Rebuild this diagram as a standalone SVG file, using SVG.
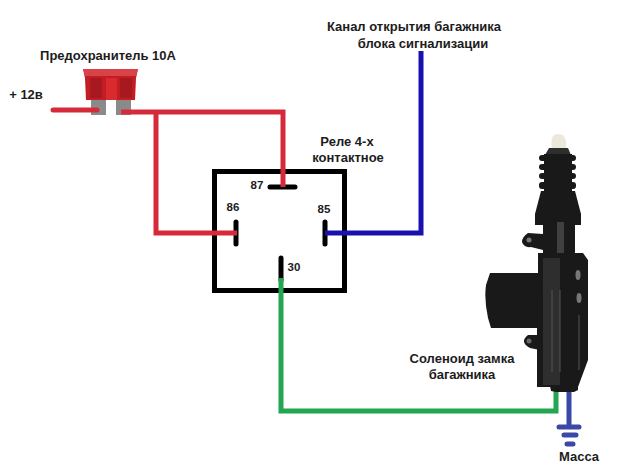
<svg xmlns="http://www.w3.org/2000/svg" width="619" height="474" viewBox="0 0 619 474">
<style>
text{font-family:"Liberation Sans",Arial,sans-serif;font-weight:bold;font-size:13px;fill:#1c1c1c;text-anchor:middle}
.n{font-size:11.500px}
.w{fill:none;stroke-width:5;stroke-linejoin:miter}
.r{stroke:#d62a3a}.b{stroke:#1a10b0}.g{stroke:#22a650}.m{stroke:#3a48a8}
.k{fill:none;stroke:#000;stroke-width:5;stroke-linecap:round}
.d{fill:#191919}.e{fill:#2e2e2e}.l{fill:none;stroke:#555;stroke-width:1}
</style>
<rect width="619" height="474" fill="#fff"/>
<g id="fuse">
<rect x="91" y="98" width="15" height="17" fill="#8a8a8a"/>
<rect x="116" y="98" width="15" height="17" fill="#8a8a8a"/>
<path d="M83 69H138L136 78L135 100H86L85 78Z" fill="#c41c24"/>
<path d="M83 69H138L136 76H85Z" fill="#d8434a"/>
<rect x="106" y="78" width="11" height="22" fill="#d92a30"/>
<rect x="90" y="78" width="12" height="20" fill="#a8181f"/>
<rect x="120" y="78" width="12" height="20" fill="#a8181f"/>
<text x="108" y="60">Предохранитель 10А</text>
</g>
<g id="plus12"><text x="26" y="99">+ 12в</text></g>
<g id="relay">
<rect x="214.500" y="171.500" width="130" height="119" fill="none" stroke="#000" stroke-width="5"/>
<path class="k" d="M270 187H295M236 222V244M325 222V244M281 258V280"/>
<text class="n" x="257" y="189">87</text>
<text class="n" x="233" y="211">86</text>
<text class="n" x="324" y="213">85</text>
<text class="n" x="294" y="271">30</text>
<text x="347" y="146" font-size="14">Реле 4-х</text>
<text x="348" y="162">контактное</text>
</g>
<g id="connectors">
<path class="w r" stroke-linecap="round" d="M53 110H97"/>
<path class="w r" d="M121 112H283V187M156 112V233H237"/>
<path class="w b" d="M325 233H421V51"/>
<path class="w g" d="M281 278V411H556V390"/>
<path class="w m" d="M569 390V427"/>
</g>
<g id="solenoid">
<path d="M552 148C550 138 553 134 558 134C564 134 567 138 566 148Z" fill="#ece8dc"/>
<path class="e" d="M549 148H568L571 155H545Z"/>
<rect class="d" x="544" y="154" width="28" height="38"/>
<rect class="d" x="539" y="155" width="37" height="6" rx="3"/>
<rect class="d" x="539" y="164" width="37" height="6" rx="3"/>
<rect class="d" x="539" y="173" width="37" height="6" rx="3"/>
<rect class="d" x="539" y="182" width="37" height="7" rx="3"/>
<path class="d" d="M541 191H575L581 214V225H535V214Z"/>
<path class="d" d="M543 225H575V256H543Z"/>
<rect x="557" y="222" width="7" height="34" fill="#404040"/>
<path class="d" d="M543 234L528 233Q522 237 522 242Q524 248 531 247L543 250Z"/>
<circle cx="529" cy="240" r="2.500" fill="#777"/>
<path class="d" d="M490 273H542V328H491L488 318Q484 300 486 285Z"/>
<path class="d" d="M538 253H583L588 260V360L578 387H537V330L538 300Z"/>
<path class="e" d="M543 258H560V385H543Z"/>
<path class="d" d="M528 335H540V350L530 348Q519 342 528 335Z"/>
<circle cx="529" cy="341" r="2.500" fill="#666"/>
<path class="d" d="M550 386H578V390L574 392H556L551 391Z"/>
<path class="l" d="M552 290V372M560 290V372M579 315V370"/>
<ellipse cx="578" cy="275" rx="2.500" ry="5" fill="#777"/>
<ellipse cx="579" cy="298" rx="2.500" ry="5" fill="#777"/>
<text x="462" y="363" font-size="13.500">Соленоид замка</text>
<text x="462" y="379" font-size="13.500">багажника</text>
</g>
<g id="ground">
<path class="w m" stroke-linecap="round" d="M559 427H579M564 435H576M567 444H573"/>
<text x="579" y="461" font-size="12">Масса</text>
</g>
<g id="alarm-label">
<text x="414" y="31" font-size="12.500">Канал открытия багажника</text>
<text x="423" y="48">блока сигнализации</text>
</g>
</svg>
